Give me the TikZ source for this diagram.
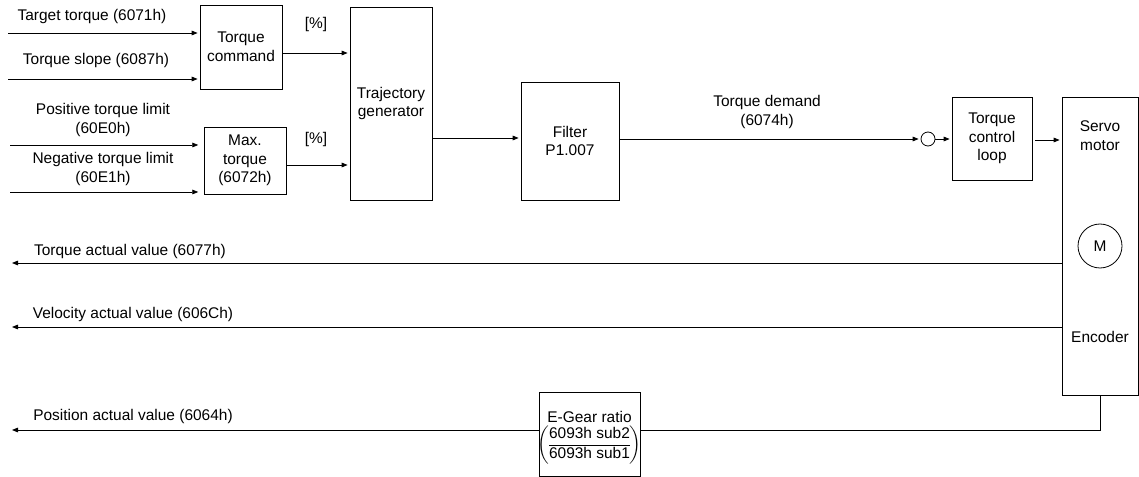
\documentclass[tikz,border=0pt]{standalone}
\usepackage{fontspec}
\setmainfont{Liberation Sans}
\usepackage{amsmath}
\usetikzlibrary{arrows.meta, positioning, calc}

\begin{document}
\begin{tikzpicture}[x=0.75pt, y=-0.75pt, line width=0.6pt,
  every node/.style={font=\fontsize{11.6}{14}\selectfont, align=center},
  blk/.style={draw, inner sep=0pt},
  arr/.style={-{Triangle[length=4.5pt,width=3.5pt]}, shorten >=1.5pt}]
  \useasboundingbox (0,0) rectangle (1139,477);
  % blocks
  \node[blk, minimum width=61.5pt, minimum height=63pt] (cmd) at (241,47) {Torque\\command};
  \node[blk, minimum width=61.5pt, minimum height=50.25pt] (maxt) at (245,160.5) {Max.\\torque\\(6072h)};
  \node[blk, minimum width=61.5pt, minimum height=144.75pt] (traj) at (391,103.5) {Trajectory\\generator};
  \node[blk, minimum width=73.5pt, minimum height=88.5pt] (filt) at (570,141) {Filter\\P1.007};
  \node[blk, circle, minimum size=10.5pt] (sum) at (928,139) {};
  \node[blk, minimum width=60pt, minimum height=62.25pt] (tcl) at (992,138.5) {Torque\\control\\loop};
  \node[blk, minimum width=57pt, minimum height=223.5pt] (servo) at (1100,246) {};
  \node (servolbl) at (1100,136) {Servo\\motor};
  \node[blk, circle, minimum size=33pt] (mot) at (1100,246) {M};
  \node (enc) at (1100,337) {Encoder};
  \node[blk, minimum width=75.75pt, minimum height=63pt] (egear) at (589.5,434) {};
  \node (eglbl) at (589.5,417) {E-Gear ratio};
  \node (egfrac) at (589.5,445) {$\left(\renewcommand\arraystretch{1.05}\begin{tabular}{@{}c@{}}6093h sub2\\\hline 6093h sub1\end{tabular}\right)$};

  % inputs
  \coordinate (tt) at (8,33);
  \coordinate (ts) at (8,79);
  \coordinate (pl) at (10,145);
  \coordinate (nl) at (10,192);
  \draw[arr] (tt) -- (tt -| cmd.west);
  \draw[arr] (ts) -- (ts -| cmd.west);
  \draw[arr, shorten >=4pt] (pl) -- (pl -| maxt.west);
  \draw[arr, shorten >=4pt] (nl) -- (nl -| maxt.west);
  \node (ttlbl) at (92,17) {Target torque (6071h)};
  \node (tslbl) at (96,61) {Torque slope (6087h)};
  \node (pllbl) at (103,120) {Positive torque limit\\(60E0h)};
  \node (nllbl) at (103,169) {Negative torque limit\\(60E1h)};

  % forward path
  \draw[arr] (cmd.east |- 0,53) -- (traj.west |- 0,53);
  \draw[arr] (maxt.east |- 0,165) -- (traj.west |- 0,165);
  \node (pct1) at (316,25) {[\%]};
  \node (pct2) at (316,140) {[\%]};
  \draw[arr] (traj.east |- 0,138) -- (filt.west |- 0,138);
  \draw[arr] (filt.east |- sum.west) -- (sum.west);
  \node (tdlbl) at (767,112) {Torque demand\\(6074h)};
  \draw[arr] (sum.east) -- (tcl.west |- sum.east);
  \draw[arr, shorten <=2pt] (tcl.east |- 0,140) -- (servo.west |- 0,140);

  % feedback
  \coordinate (tav) at (10,263);
  \coordinate (vav) at (10,327);
  \coordinate (pav) at (10,430);
  \draw[arr] (servo.west |- tav) -- (tav);
  \draw[arr] (servo.west |- vav) -- (vav);
  \draw (servo.south) |- (egear.east |- pav);
  \draw[arr] (egear.west |- pav) -- (pav);
  \node (tavlbl) at (130,252) {Torque actual value (6077h)};
  \node (vavlbl) at (133,315) {Velocity actual value (606Ch)};
  \node (pavlbl) at (133,416) {Position actual value (6064h)};
\end{tikzpicture}
\end{document}
